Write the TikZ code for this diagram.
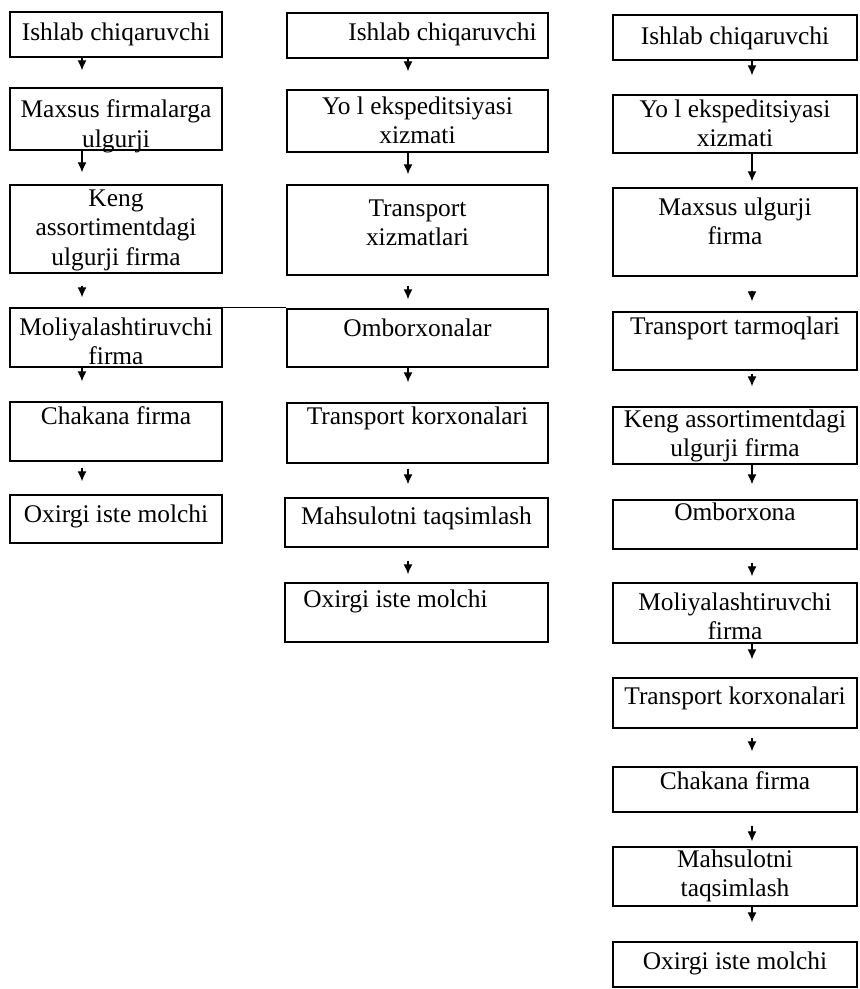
\documentclass[tikz,border=0pt]{standalone}
\usepackage{fontspec}
\setmainfont{Liberation Serif}
\usetikzlibrary{arrows.meta,fit}

\begin{document}
\begin{tikzpicture}[x=0.5pt,y=-0.5pt,
    blk/.style={draw,line width=0.7pt,inner sep=0pt},
    txt/.style={anchor=north,align=center,inner sep=0pt,font=\fontsize{12.7}{14.8}\selectfont},
    arr/.style={-{Latex[length=5pt,width=4.5pt]},line width=0.6pt}]
    \useasboundingbox (0,0) rectangle (859,989);
    % columns for the arrows
    \coordinate (aL) at (82,0);
    \coordinate (aM) at (408,0);
    \coordinate (aR) at (752,0);

    % first chain
    \node[blk,fit={(10,12)(222,57)},label={[txt,yshift=-5.5pt]north:Ishlab chiqaruvchi}] (L1) {};
    \node[blk,fit={(10,88)(222,150)},label={[txt,yshift=-6pt]north:Maxsus firmalarga\\ulgurji}] (L2) {};
    \node[blk,fit={(10,185)(222,273)},label={[txt,yshift=-2.5pt]north:Keng\\assortimentdagi\\ulgurji firma}] (L3) {};
    \node[blk,fit={(10,308)(222,367)},label={[txt,yshift=-5pt]north:Moliyalashtiruvchi\\firma}] (L4) {};
    \node[blk,fit={(10,402)(222,461)},label={[txt,yshift=-2.5pt]north:Chakana firma}] (L5) {};
    \node[blk,fit={(10,495)(222,543)},label={[txt,yshift=-5pt]north:Oxirgi iste molchi}] (L6) {};

    % second chain
    \node[blk,fit={(287,13)(548,58)},label={[txt,yshift=-5pt,xshift=12.5pt]north:Ishlab chiqaruvchi}] (M1) {};
    \node[blk,fit={(287,90)(548,152)},label={[txt,yshift=-3.5pt]north:Yo l ekspeditsiyasi\\xizmati}] (M2) {};
    \node[blk,fit={(287,185)(548,275)},label={[txt,yshift=-7.5pt]north:Transport\\xizmatlari}] (M3) {};
    \node[blk,fit={(287,309)(548,367)},label={[txt,yshift=-5pt]north:Omborxonalar}] (M4) {};
    \node[blk,fit={(287,403)(548,463)},label={[txt,yshift=-2pt]north:Transport korxonalari}] (M5) {};
    \node[blk,fit={(285,498)(548,547)},label={[txt,yshift=-4.5pt]north:Mahsulotni taqsimlash}] (M6) {};
    \node[blk,fit={(285,583)(548,642)},label={[txt,yshift=-3.5pt,xshift=-10.5pt]north:Oxirgi iste molchi}] (M7) {};
    \draw[line width=0.7pt] (L4.north east) -- (L4.north east -| M4.west);

    % third chain
    \node[blk,fit={(613,15)(857,60)},label={[txt,yshift=-6pt]north:Ishlab chiqaruvchi}] (R1) {};
    \node[blk,fit={(613,95)(857,153)},label={[txt,yshift=-2.5pt]north:Yo l ekspeditsiyasi\\xizmati}] (R2) {};
    \node[blk,fit={(613,188)(857,276)},label={[txt,yshift=-5pt]north:Maxsus ulgurji\\firma}] (R3) {};
    \node[blk,fit={(613,312)(857,370)},label={[txt,yshift=-2.5pt]north:Transport tarmoqlari}] (R4) {};
    \node[blk,fit={(613,407)(857,464)},label={[txt,yshift=-1.5pt]north:Keng assortimentdagi\\ulgurji firma}] (R5) {};
    \node[blk,fit={(613,500)(857,549)},label={[txt,yshift=-1.5pt]north:Omborxona}] (R6) {};
    \node[blk,fit={(613,583)(857,643)},label={[txt,yshift=-5pt]north:Moliyalashtiruvchi\\firma}] (R7) {};
    \node[blk,fit={(613,678)(857,728)},label={[txt,yshift=-4.5pt]north:Transport korxonalari}] (R8) {};
    \node[blk,fit={(613,767)(857,812)},label={[txt,yshift=-2.5pt]north:Chakana firma}] (R9) {};
    \node[blk,fit={(613,847)(857,906)},label={[txt,yshift=-1.5pt]north:Mahsulotni\\taqsimlash}] (R10) {};
    \node[blk,fit={(613,942)(857,987)},label={[txt,yshift=-5pt]north:Oxirgi iste molchi}] (R11) {};

    % arrows between the boxes
    \foreach \a/\b/\c/\s/\e in {L1/L2/aL/0pt/8.5pt, L2/L3/aL/0pt/6pt, L3/L4/aL/6pt/5pt,
        L4/L5/aL/0pt/10pt, L5/L6/aL/3pt/6.5pt,
        M1/M2/aM/0pt/9pt, M2/M3/aM/0pt/5pt, M3/M4/aM/5pt/4.5pt, M4/M5/aM/0pt/10pt,
        M5/M6/aM/2.5pt/6.5pt, M6/M7/aM/6.5pt/4pt,
        R1/R2/aR/0pt/9.5pt, R2/R3/aR/0pt/3pt, R3/R4/aR/7pt/5pt, R4/R5/aR/1.5pt/10pt,
        R5/R6/aR/0pt/7.5pt, R6/R7/aR/6.5pt/3pt, R7/R8/aR/0pt/9pt, R8/R9/aR/4.5pt/7.5pt,
        R9/R10/aR/6.5pt/2.5pt, R10/R11/aR/0pt/9.5pt}
        \draw[arr,shorten <=\s,shorten >=\e] (\a.south -| \c) -- (\b.north -| \c);
\end{tikzpicture}
\end{document}
